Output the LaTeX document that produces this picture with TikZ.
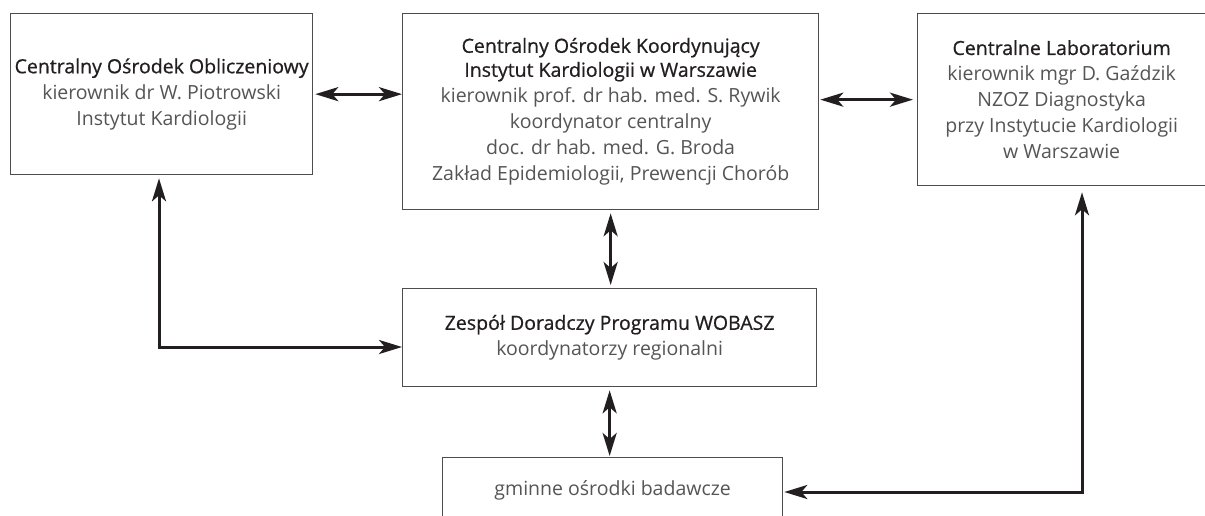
\documentclass[tikz,border=0pt]{standalone}
\usepackage{fontspec}
\setmainfont{Open Sans}
\newfontfamily\headfont{Open Sans}[FakeBold=0.7]
\usetikzlibrary{arrows.meta}
\definecolor{headc}{HTML}{231F20}
\definecolor{bodyc}{HTML}{555555}
\definecolor{linec}{HTML}{4D4D4D}
\definecolor{arrc}{HTML}{231F20}
\newcommand{\hd}[1]{{\headfont\color{headc}#1}}
\begin{document}
\begin{tikzpicture}[x=1pt,y=-1pt,
  myhead/.tip={Stealth[length=23pt,width=14pt,inset=6pt]},
  box/.style={draw=linec, line width=1.3pt, align=center, inner sep=0pt, anchor=north west,
    font=\fontsize{19.5}{26}\selectfont, text=bodyc},
  link/.style={draw=arrc, line width=3pt, myhead-myhead}]
\useasboundingbox (0,0) rectangle (1205,515);
\fill[white] (0,0) rectangle (1205,515);
\node[box, minimum width=302pt, minimum height=161pt] (cob) at (10,13)
  {\hd{Centralny Ośrodek Obliczeniowy}\\ kierownik dr W. Piotrowski\\ Instytut Kardiologii};
\node[box, minimum width=416pt, minimum height=196pt] (cok) at (402,13)
  {\hd{Centralny Ośrodek Koordynujący}\\[-2pt] \hd{Instytut Kardiologii w Warszawie}\\ kierownik prof. dr hab. med. S. Rywik\\ koordynator centralny\\ doc. dr hab. med. G. Broda\\ Zakład Epidemiologii, Prewencji Chorób};
\node[box, minimum width=288pt, minimum height=172pt] (cl) at (917,13)
  {\hd{Centralne Laboratorium}\\ kierownik mgr D. Gaździk\\ NZOZ Diagnostyka\\ przy Instytucie Kardiologii\\ w Warszawie};
\node[box, minimum width=414pt, minimum height=98pt] (zd) at (402,288)
  {\hd{Zespół Doradczy Programu WOBASZ}\\ koordynatorzy regionalni};
\node[box, minimum width=340pt, minimum height=66pt] (gob) at (442,457)
  {gminne ośrodki badawcze};
\coordinate (c1) at (159,347);
\coordinate (c2) at (1082,492);
\draw[link, shorten <=2pt] (cob.east) -- (cob.east -| cok.west);
\draw[link, shorten <=1pt, shorten >=4pt] (cl.west -| cok.east) -- (cl.west);
\draw[link, shorten <=3pt, shorten >=3pt] (cok.south) -- (cok.south |- zd.north);
\draw[link, shorten <=3pt, shorten >=1pt] (zd.south) -- (zd.south |- gob.north);
\draw[link, shorten <=3pt] (cob.south -| c1) -- (c1) -- (c1 -| zd.west);
\draw[link, shorten <=6pt, shorten >=1pt] (cl.south -| c2) -- (c2) -- (c2 -| gob.east);
\end{tikzpicture}
\end{document}
